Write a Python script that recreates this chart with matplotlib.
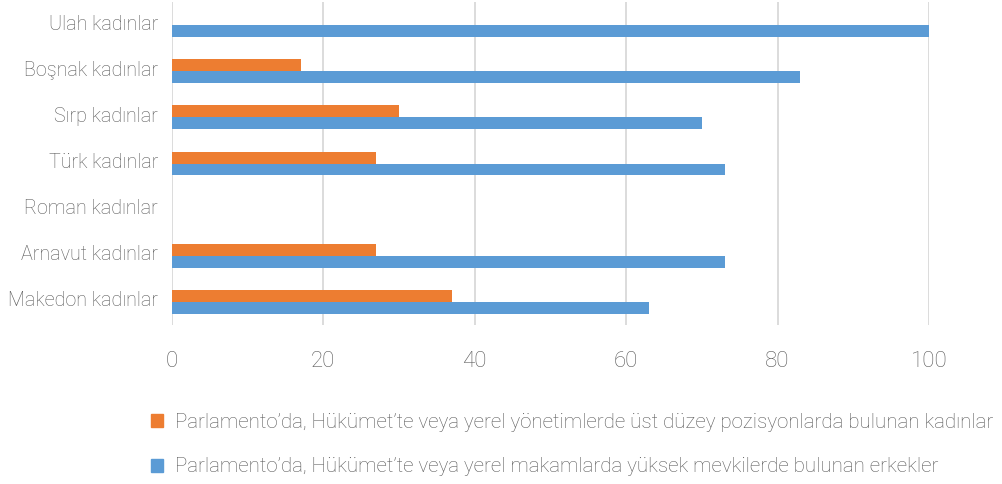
import matplotlib
matplotlib.use("Agg")
import matplotlib.pyplot as plt
import matplotlib.transforms as mtransforms
import numpy as np
from matplotlib.patches import Patch

categories = ["Makedon kadınlar", "Arnavut kadınlar", "Roman kadınlar", "Türk kadınlar",
              "Sırp kadınlar", "Boşnak kadınlar", "Ulah kadınlar"]
women = [37, 27, 0, 27, 30, 17, 0]
men = [63, 73, 0, 73, 70, 83, 100]
series_labels = [
    "Parlamento’da, Hükümet’te veya yerel yönetimlerde üst düzey pozisyonlarda bulunan kadınlar",
    "Parlamento’da, Hükümet’te veya yerel makamlarda yüksek mevkilerde bulunan erkekler",
]
xticks = [0, 20, 40, 60, 80, 100]

orange = "#ED7D31"
blue = "#5B9BD5"
text_color = "#595959"

plt.rcParams['font.family'] = ['Roboto', 'DejaVu Sans']

fig = plt.figure(figsize=(10.02, 4.84), dpi=100)
ax = fig.add_axes([172/1002, 1-325/484, (929-172)/1002, (325-2)/484])

y = np.arange(len(categories))
h = 0.26
ax.barh(y + h/2, women, height=h, color=orange, zorder=3)
ax.barh(y - h/2, men, height=h, color=blue, zorder=3)

ax.set_xlim(0, 100)
ax.set_ylim(-0.5, len(categories) - 0.5)
ax.set_xticks(xticks)
ax.set_xticklabels([str(t) for t in xticks], fontsize=16, color=text_color, fontweight='light')
ax.set_yticks(y)
ax.set_yticklabels(categories, fontsize=14.2, color=text_color, fontweight='light')
ax.tick_params(axis='x', length=0, pad=18.5)
ax.tick_params(axis='y', length=0, pad=10)
offset = mtransforms.ScaledTranslation(0, 3/100, fig.dpi_scale_trans)
for lab in ax.get_yticklabels():
    lab.set_transform(lab.get_transform() + offset)
for s in ax.spines.values():
    s.set_visible(False)
ax.grid(axis='x', color="#D9D9D9", linewidth=1.3, zorder=0)
ax.set_axisbelow(True)

handles = [Patch(color=orange), Patch(color=blue)]
fig.legend(handles, series_labels, loc='upper left', bbox_to_anchor=(151/1002, 1-413/484),
           frameon=False, labelcolor=text_color, handlelength=0.6, handleheight=0.6,
           handletextpad=0.55, labelspacing=1.24, borderpad=0, borderaxespad=0,
           prop={'weight': 'light', 'size': 14.8})

fig.savefig("out.png", dpi=100)
